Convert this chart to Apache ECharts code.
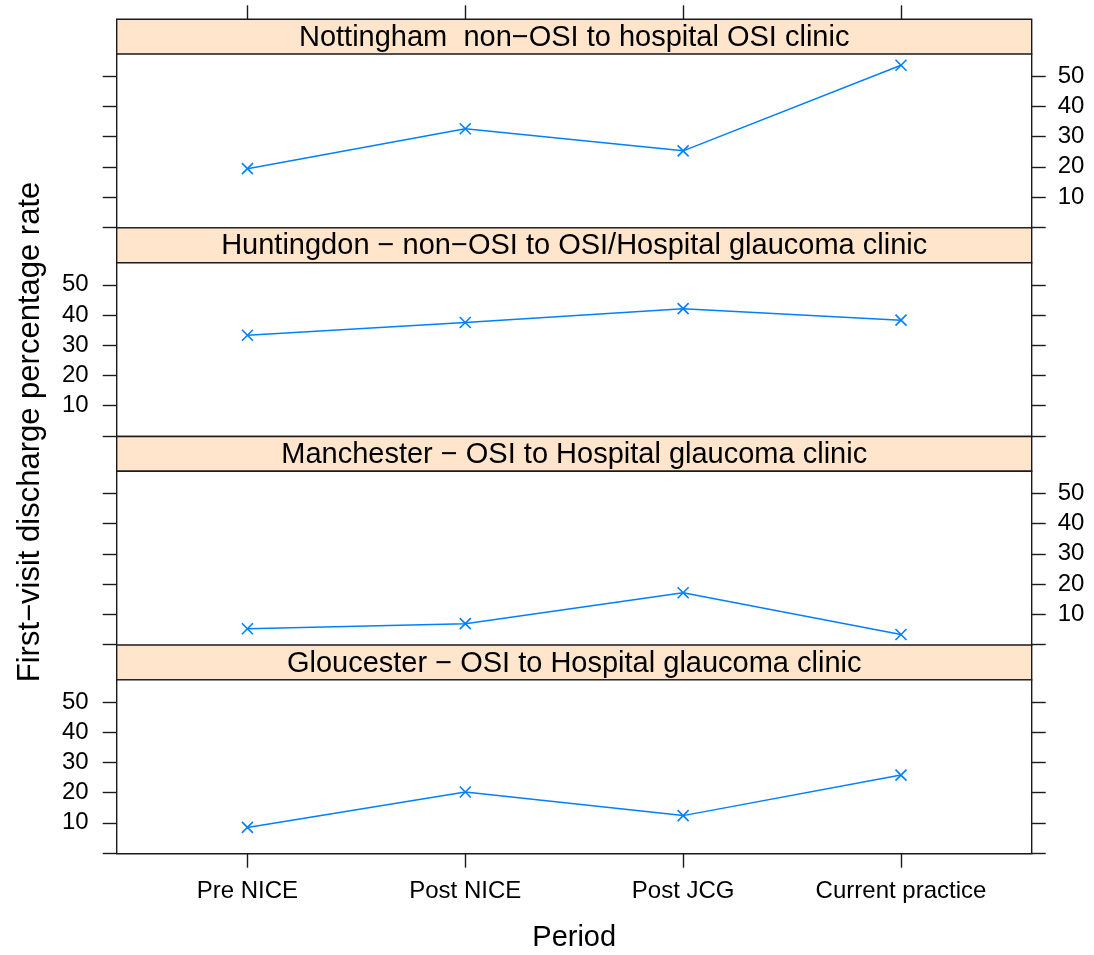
<!DOCTYPE html>
<html>
<head>
<meta charset="utf-8">
<title>First-visit discharge percentage rate by period</title>
<script src="https://cdn.jsdelivr.net/npm/echarts@6/dist/echarts.min.js"></script>
<style>
  html, body { margin: 0; padding: 0; background: #fff; }
  #chart { width: 1094px; height: 955px; }
</style>
</head>
<body>
<div id="chart"></div>
<script>
// Periods along the x axis
const categories = ['Pre NICE', 'Post NICE', 'Post JCG', 'Current practice'];

// Panel headings, top to bottom
const panelTitles = [
  'Nottingham  non\u2212OSI to hospital OSI clinic',
  'Huntingdon \u2212 non\u2212OSI to OSI/Hospital glaucoma clinic',
  'Manchester \u2212 OSI to Hospital glaucoma clinic',
  'Gloucester \u2212 OSI to Hospital glaucoma clinic'
];

// First-visit discharge rates (%) per period
const nottingham = [19.4, 32.6, 25.3, 53.6];
const huntingdon = [33.3, 37.5, 42.1, 38.3];
const manchester = [5.2, 6.9, 17.1, 3.3];
const gloucester = [8.5, 20.2, 12.4, 25.8];

// Shared y tick marks and labelled values
const yTicks = [0, 10, 20, 30, 40, 50];
const yLabels = [10, 20, 30, 40, 50];

const panelData = [nottingham, huntingdon, manchester, gloucester];

// Layout of the stacked panels (pixels)
const TOP0 = 19.3, PANEL_H = 208.6, STRIP_H = 34.8, LEFT = 116.7, WIDTH = 915;
const PLOT_H = PANEL_H - STRIP_H;
const X_MIN = 0.4, X_MAX = 4.6, Y_MIN = -0.2, Y_MAX = 57.3;
const FONT = 'Liberation Sans, Arial, Helvetica, sans-serif';
const LINE_COLOR = '#0080ff';
const FRAME = '#1a1a1a';

const xPositions = categories.map((_, i) => i + 1);

const grids = [], xAxes = [], yAxes = [], series = [], titles = [];

panelTitles.forEach((title, i) => {
  const top = TOP0 + i * PANEL_H;
  const stripIdx = grids.length;
  // strip (panel heading)
  grids.push({
    left: LEFT, top: top, width: WIDTH, height: STRIP_H,
    show: true, backgroundColor: '#ffe5cc', borderColor: FRAME, borderWidth: 1.4,
    outerBoundsMode: 'none'
  });
  const plotIdx = grids.length;
  // plotting region
  grids.push({
    left: LEFT, top: top + STRIP_H, width: WIDTH, height: PLOT_H,
    show: true, backgroundColor: '#fff', borderColor: FRAME, borderWidth: 1.4,
    outerBoundsMode: 'none'
  });

  titles.push({
    text: title,
    left: LEFT + WIDTH / 2,
    top: top + STRIP_H / 2 - 16,
    textAlign: 'center',
    padding: 0,
    textStyle: { fontFamily: FONT, fontSize: 29, fontWeight: 'normal', color: '#000', lineHeight: 34 }
  });

  // strip axes: only the top panel carries the upper x ticks
  xAxes.push({
    type: 'value', gridIndex: stripIdx, position: 'top', min: X_MIN, max: X_MAX,
    show: i === 0,
    axisLine: { show: false, onZero: false }, splitLine: { show: false },
    axisTick: { show: true, inside: false, length: 14, customValues: xPositions,
                lineStyle: { color: FRAME, width: 1.4 } },
    axisLabel: { show: false }
  });
  yAxes.push({ type: 'value', gridIndex: stripIdx, show: false, min: 0, max: 1,
               axisLine: { onZero: false } });

  // plot x axis: ticks and labels only on the bottom panel
  const isBottom = i === panelTitles.length - 1;
  xAxes.push({
    type: 'value', gridIndex: plotIdx, position: 'bottom', min: X_MIN, max: X_MAX,
    show: isBottom,
    axisLine: { show: false, onZero: false }, splitLine: { show: false },
    axisTick: { show: isBottom, inside: false, length: 14, customValues: xPositions,
                lineStyle: { color: FRAME, width: 1.4 } },
    axisLabel: {
      show: isBottom, customValues: xPositions, margin: 26,
      fontFamily: FONT, fontSize: 24, color: '#000',
      formatter: v => categories[Math.round(v) - 1]
    }
  });

  // y axes on both sides; labels alternate right / left
  const labelsRight = i % 2 === 0;
  ['left', 'right'].forEach(side => {
    const labelled = (side === 'right') === labelsRight;
    yAxes.push({
      type: 'value', gridIndex: plotIdx, position: side, min: Y_MIN, max: Y_MAX,
      axisLine: { show: false, onZero: false }, splitLine: { show: false },
      axisTick: { show: true, inside: false, length: 14, customValues: yTicks,
                  lineStyle: { color: FRAME, width: 1.4 } },
      axisLabel: {
        show: labelled, customValues: yLabels, margin: side === 'left' ? 28 : 26,
        fontFamily: FONT, fontSize: 24, color: '#000'
      }
    });
  });

  const yAxisIndex = yAxes.length - 2;
  series.push({
    type: 'line',
    name: title,
    xAxisIndex: xAxes.length - 1,
    yAxisIndex: yAxisIndex,
    data: panelData[i].map((v, k) => [xPositions[k], v]),
    symbol: 'path://M0 0L10 10M10 0L0 10',
    symbolSize: 11,
    showSymbol: true,
    itemStyle: { color: 'rgba(0,0,0,0)', borderColor: LINE_COLOR, borderWidth: 1.6 },
    lineStyle: { color: LINE_COLOR, width: 1.5 },
    emphasis: { disabled: true },
    silent: true,
    z: 5
  });
});

const chart = echarts.init(document.getElementById('chart'), null, { renderer: 'canvas' });
chart.setOption({
  animation: false,
  backgroundColor: '#fff',
  title: titles,
  grid: grids,
  xAxis: xAxes,
  yAxis: yAxes,
  series: series,
  graphic: [
    {
      type: 'text', x: 30, y: 432, rotation: Math.PI / 2,
      style: {
        text: 'First\u2212visit discharge percentage rate',
        font: '31px ' + FONT, fill: '#000', textAlign: 'center', textVerticalAlign: 'middle'
      }
    },
    {
      type: 'text', x: LEFT + WIDTH / 2, y: 938,
      style: {
        text: 'Period', font: '29px ' + FONT, fill: '#000',
        textAlign: 'center', textVerticalAlign: 'middle'
      }
    }
  ]
});
</script>
</body>
</html>
